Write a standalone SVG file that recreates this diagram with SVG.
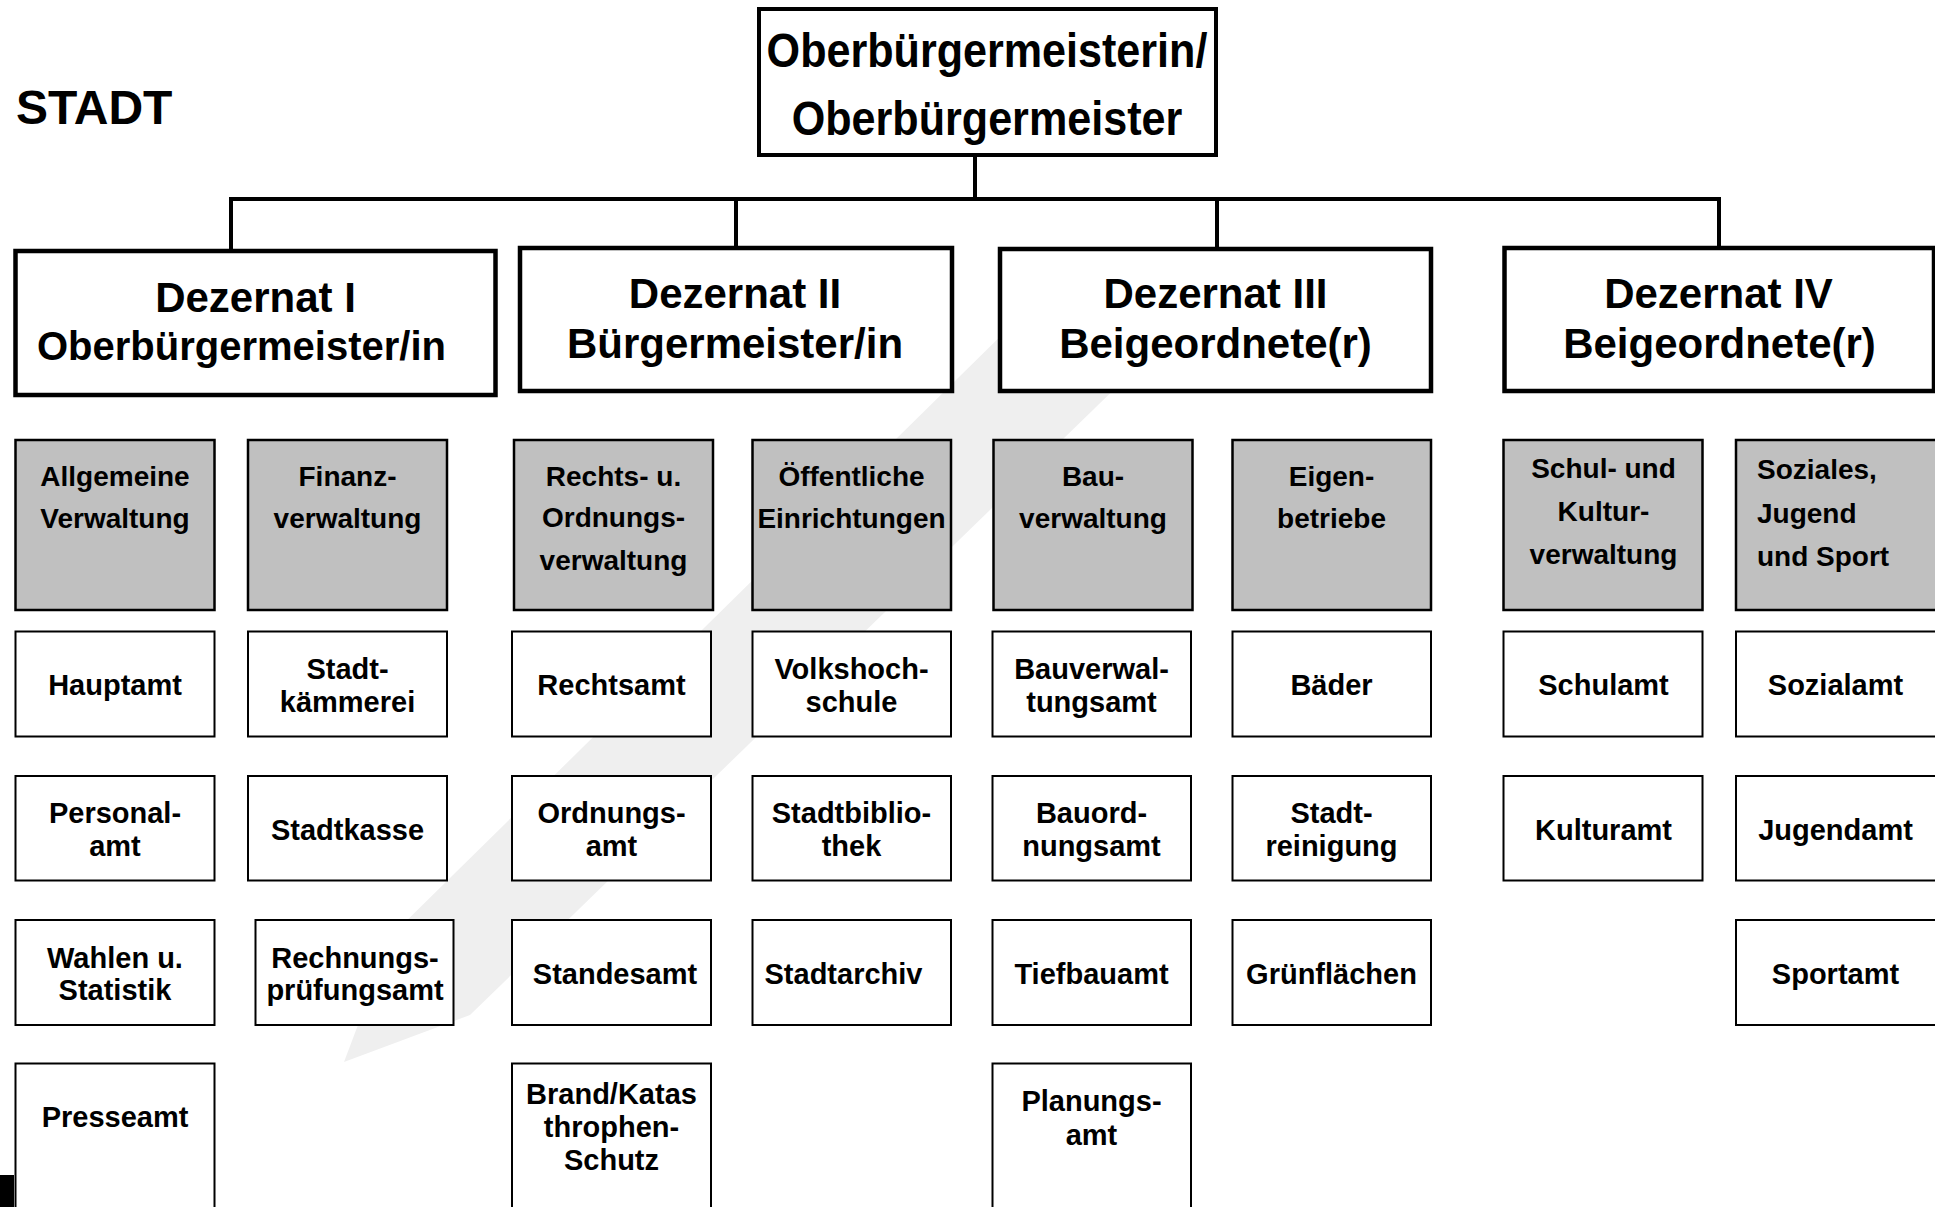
<svg xmlns="http://www.w3.org/2000/svg" width="1935" height="1207" viewBox="0 0 1935 1207">
<style>
text { font-family: "Liberation Sans", Arial, Helvetica, sans-serif; font-weight: bold; fill: #000; text-anchor: middle; }
.g { fill: #c0c0c0; stroke: #000; stroke-width: 2.5; }
.w { fill: #fff; stroke: #000; stroke-width: 2; }
.d { fill: #fff; stroke: #000; stroke-width: 4.5; }
.top { fill: #fff; stroke: #000; stroke-width: 4; }
.f28 { font-size: 28px; }
.f29 { font-size: 29px; }
.f42 { font-size: 42px; }
.l { text-anchor: start; }
.conn { fill: none; stroke: #000; stroke-width: 4; }
</style>
<rect width="1935" height="1207" fill="#fff"/>
<g id="watermark">
<polygon points="1165,340 470,1015 344,1062 392,935 1080,258" fill="#efefef"/>
</g>
<rect x="0" y="1175" width="14" height="32" fill="#000"/>
<text x="16" y="124" class="l" style="font-size:48px">STADT</text>

<g id="connectors">
<path class="conn" d="M975,157 V199 M231,249 V199 H1719 V246 M736,199 V246 M1217,199 V247"/>
</g>

<g id="ob">
<rect class="top" x="759" y="9" width="457" height="146"/>
<text transform="translate(987,67) scale(0.88,1)" style="font-size:49px">Oberbürgermeisterin/</text>
<text transform="translate(987,135) scale(0.88,1)" style="font-size:49px">Oberbürgermeister</text>
</g>

<g id="dez1">
<rect class="d" x="15.5" y="251" width="480" height="144"/>
<text x="255.5" y="312" class="f42">Dezernat I</text>
<text x="241.5" y="360" style="font-size:40px">Oberbürgermeister/in</text>
</g>
<g id="dez2">
<rect class="d" x="520" y="248" width="432" height="143"/>
<text x="735" y="308" class="f42">Dezernat II</text>
<text x="735" y="358" class="f42">Bürgermeister/in</text>
</g>
<g id="dez3">
<rect class="d" x="1000" y="249" width="431" height="142"/>
<text x="1215.5" y="308" class="f42">Dezernat III</text>
<text x="1215.5" y="358" class="f42">Beigeordnete(r)</text>
</g>
<g id="dez4">
<rect class="d" x="1504.5" y="248" width="429.5" height="143"/>
<text x="1718.5" y="308" class="f42">Dezernat IV</text>
<text x="1719.5" y="358" class="f42">Beigeordnete(r)</text>
</g>

<!-- gray row -->
<g id="allg">
<rect class="g" x="15.5" y="440" width="199" height="170"/>
<text x="115" y="486" class="f28">Allgemeine</text>
<text x="115" y="528" class="f28">Verwaltung</text>
</g>
<g id="finanz">
<rect class="g" x="248" y="440" width="199" height="170"/>
<text x="347.5" y="486" class="f28">Finanz-</text>
<text x="347.5" y="528" class="f28">verwaltung</text>
</g>
<g id="rechtsord">
<rect class="g" x="514" y="440" width="199" height="170"/>
<text x="613.5" y="486" class="f28">Rechts- u.</text>
<text x="613.5" y="527" class="f28">Ordnungs-</text>
<text x="613.5" y="570" class="f28">verwaltung</text>
</g>
<g id="oeff">
<rect class="g" x="752.5" y="440" width="198.5" height="170"/>
<text x="851.5" y="486" class="f28">Öffentliche</text>
<text x="851.5" y="528" class="f28">Einrichtungen</text>
</g>
<g id="bau">
<rect class="g" x="993.5" y="440" width="199" height="170"/>
<text x="1093" y="486" class="f28">Bau-</text>
<text x="1093" y="528" class="f28">verwaltung</text>
</g>
<g id="eigen">
<rect class="g" x="1232.5" y="440" width="198.5" height="170"/>
<text x="1331.5" y="486" class="f28">Eigen-</text>
<text x="1331.5" y="528" class="f28">betriebe</text>
</g>
<g id="schul">
<rect class="g" x="1503.5" y="440" width="199" height="170"/>
<text x="1603.5" y="478" class="f28">Schul- und</text>
<text x="1603.5" y="521" class="f28">Kultur-</text>
<text x="1603.5" y="564" class="f28">verwaltung</text>
</g>
<g id="sozial">
<rect class="g" x="1736" y="440" width="210" height="170"/>
<text x="1757" y="479" class="f28 l">Soziales,</text>
<text x="1757" y="523" class="f28 l">Jugend</text>
<text x="1757" y="566" class="f28 l">und Sport</text>
</g>

<!-- row 2 -->
<g id="hauptamt">
<rect class="w" x="15.5" y="631.5" width="199" height="105"/>
<text x="115" y="695" class="f29">Hauptamt</text>
</g>
<g id="kaemmerei">
<rect class="w" x="248" y="631.5" width="199" height="105"/>
<text x="347.5" y="679" class="f29">Stadt-</text>
<text x="347.5" y="711.5" class="f29">kämmerei</text>
</g>
<g id="rechtsamt">
<rect class="w" x="512" y="631.5" width="199" height="105"/>
<text x="611.5" y="695" class="f29">Rechtsamt</text>
</g>
<g id="vhs">
<rect class="w" x="752.5" y="631.5" width="198.5" height="105"/>
<text x="851.5" y="679" class="f29">Volkshoch-</text>
<text x="851.5" y="711.5" class="f29">schule</text>
</g>
<g id="bauverw">
<rect class="w" x="992.5" y="631.5" width="198.5" height="105"/>
<text x="1091.5" y="679" class="f29">Bauverwal-</text>
<text x="1091.5" y="711.5" class="f29">tungsamt</text>
</g>
<g id="baeder">
<rect class="w" x="1232.5" y="631.5" width="198.5" height="105"/>
<text x="1331.5" y="695" class="f29">Bäder</text>
</g>
<g id="schulamt">
<rect class="w" x="1503.5" y="631.5" width="199" height="105"/>
<text x="1603.5" y="695" class="f29">Schulamt</text>
</g>
<g id="sozialamt">
<rect class="w" x="1736" y="631.5" width="210" height="105"/>
<text x="1835.5" y="695" class="f29">Sozialamt</text>
</g>

<!-- row 3 -->
<g id="personalamt">
<rect class="w" x="15.5" y="776" width="199" height="104.5"/>
<text x="115" y="823" class="f29">Personal-</text>
<text x="115" y="856" class="f29">amt</text>
</g>
<g id="stadtkasse">
<rect class="w" x="248" y="776" width="199" height="104.5"/>
<text x="347.5" y="839.5" class="f29">Stadtkasse</text>
</g>
<g id="ordnungsamt">
<rect class="w" x="512" y="776" width="199" height="104.5"/>
<text x="611.5" y="823" class="f29">Ordnungs-</text>
<text x="611.5" y="856" class="f29">amt</text>
</g>
<g id="bibliothek">
<rect class="w" x="752.5" y="776" width="198.5" height="104.5"/>
<text x="851.5" y="823" class="f29">Stadtbiblio-</text>
<text x="851.5" y="856" class="f29">thek</text>
</g>
<g id="bauordnung">
<rect class="w" x="992.5" y="776" width="198.5" height="104.5"/>
<text x="1091.5" y="823" class="f29">Bauord-</text>
<text x="1091.5" y="856" class="f29">nungsamt</text>
</g>
<g id="reinigung">
<rect class="w" x="1232.5" y="776" width="198.5" height="104.5"/>
<text x="1331.5" y="823" class="f29">Stadt-</text>
<text x="1331.5" y="856" class="f29">reinigung</text>
</g>
<g id="kulturamt">
<rect class="w" x="1503.5" y="776" width="199" height="104.5"/>
<text x="1603.5" y="839.5" class="f29">Kulturamt</text>
</g>
<g id="jugendamt">
<rect class="w" x="1736" y="776" width="210" height="104.5"/>
<text x="1835.5" y="839.5" class="f29">Jugendamt</text>
</g>

<!-- row 4 -->
<g id="wahlen">
<rect class="w" x="15.5" y="920" width="199" height="105"/>
<text x="115" y="967.5" class="f29">Wahlen u.</text>
<text x="115" y="1000" class="f29">Statistik</text>
</g>
<g id="rpa">
<rect class="w" x="255.5" y="920" width="198" height="105"/>
<text x="355" y="967.5" class="f29">Rechnungs-</text>
<text x="355" y="1000" class="f29">prüfungsamt</text>
</g>
<g id="standesamt">
<rect class="w" x="512" y="920" width="199" height="105"/>
<text x="615" y="983.5" class="f29">Standesamt</text>
</g>
<g id="stadtarchiv">
<rect class="w" x="752.5" y="920" width="198.5" height="105"/>
<text x="843.5" y="983.5" class="f29">Stadtarchiv</text>
</g>
<g id="tiefbau">
<rect class="w" x="992.5" y="920" width="198.5" height="105"/>
<text x="1091.5" y="983.5" class="f29">Tiefbauamt</text>
</g>
<g id="gruen">
<rect class="w" x="1232.5" y="920" width="198.5" height="105"/>
<text x="1331.5" y="983.5" class="f29">Grünflächen</text>
</g>
<g id="sportamt">
<rect class="w" x="1736" y="920" width="210" height="105"/>
<text x="1835.5" y="983.5" class="f29">Sportamt</text>
</g>

<!-- row 5 -->
<g id="presseamt">
<rect class="w" x="15.5" y="1063.5" width="199" height="200"/>
<text x="115" y="1127" class="f29">Presseamt</text>
</g>
<g id="brand">
<rect class="w" x="512" y="1063.5" width="199" height="200"/>
<text x="611.5" y="1104" class="f29">Brand/Katas</text>
<text x="611.5" y="1137" class="f29">throphen-</text>
<text x="611.5" y="1170" class="f29">Schutz</text>
</g>
<g id="planung">
<rect class="w" x="992.5" y="1063.5" width="198.5" height="200"/>
<text x="1091.5" y="1111" class="f29">Planungs-</text>
<text x="1091.5" y="1145" class="f29">amt</text>
</g>
</svg>
